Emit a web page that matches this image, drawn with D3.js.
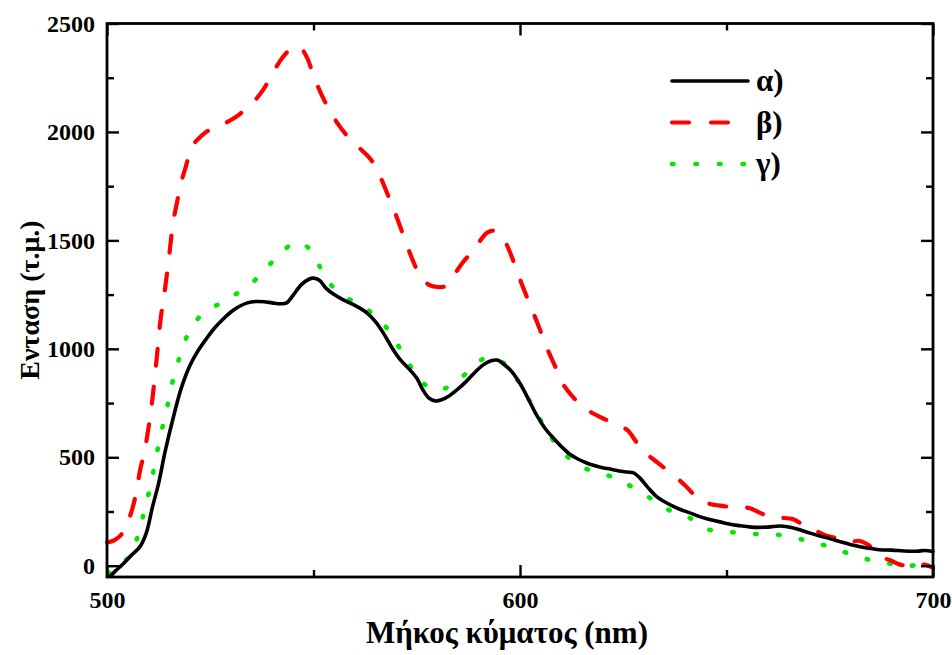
<!DOCTYPE html>
<html>
<head>
<meta charset="utf-8">
<title>spectra</title>
<script src="https://cdn.jsdelivr.net/npm/d3@7"></script>
<style>
  body { margin: 0; background: #fff; }
  svg { display: block; }
  .lbl { font-family: "Liberation Serif", "Times New Roman", serif; font-weight: bold; fill: #000; }
  .axis path, .axis line { stroke: #000; }
  .axis path { stroke-width: 2.6px; }
  .axis line { stroke-width: 2.4px; }
  .axis text { font-family: "Liberation Serif", "Times New Roman", serif; font-weight: bold; font-size: 24px; fill: #000; }
</style>
</head>
<body>
<div id="chart"></div>
<script>
// α) curve
var wlA = [500.5,502,504,506,508,509.5,511,512.5,514,516,518,520,522,524,526,528,530,532,534,536,538,540,542,543.5,545,547,549,550,551.5,553,555,557,559,561,563,565,567,569,571,573,575,576.5,578,579.5,581,583,585,587,589,591,593,594.5,596,598,600,602,604,606,608,610,612,614,616,618,620,622,624,626,627.5,629,631,633,635,637,639,641,643,645,647,650,653,656,660,663,666,669,672,675,678,681,684,687,690,693,696,698,700];
var intA = [-55,-25,10,50,88,150,270,380,520,680,820,920,990,1045,1095,1135,1170,1195,1212,1218,1217,1212,1208,1212,1245,1295,1322,1326,1315,1280,1250,1228,1210,1190,1165,1125,1070,1005,950,910,865,810,772,760,765,785,815,850,890,925,945,948,930,895,840,770,695,635,590,550,515,492,475,462,452,445,437,432,428,405,360,320,295,275,258,245,230,218,208,195,185,178,178,183,175,158,140,125,108,93,82,74,72,68,67,70,66];

// β) curve
var wlB = [500,501.5,503,504,505,506,507,508,509,510,511,512,513,514,515,516,517,518,519,520,521,522.5,524,526,528,530,532,534,536,538,540,542,544,545.5,547,548.5,550,552,554,556,558,560,562,564,566,568,570,572,574,576,578,580,582,584,586,588,590,592,593.5,595,596.5,598.5,600.5,602.5,604.5,606.5,608.5,610.5,612.5,614.5,617,620,623,626,628,630,632,634,637,640,642,644,646,648,650.5,653,655.5,658,660,663,666,668,670,672,674,676,678,680,682,684,686,688,690,692,694,696,698,700];
var intB = [108,115,135,158,200,254,330,440,520,630,770,950,1140,1270,1420,1580,1680,1770,1835,1900,1945,1975,2000,2020,2035,2055,2080,2115,2150,2200,2265,2330,2375,2393,2385,2340,2260,2170,2095,2035,1985,1945,1910,1870,1800,1710,1615,1510,1410,1330,1295,1285,1290,1340,1395,1440,1490,1535,1545,1530,1490,1400,1295,1200,1105,1005,920,835,785,745,710,680,655,625,575,525,495,465,420,370,330,298,285,278,272,270,266,245,230,222,215,195,176,158,140,130,118,110,115,100,70,38,22,5,0,2,5,-10];

// γ) curve
var wlC = [500.3,503,505.6,507,507.8,509.3,510.7,511.8,513,514.4,515.6,517.2,519.2,521,523,526,528.6,531,534.2,537,539.5,542,545,547,548.5,550,552,554,556.8,560,562.5,565,567.6,569.5,571.4,573,575,577,579,580.6,583,585.3,588,590.7,593,596.4,598.5,600.6,602.3,604,605.7,607.3,610,612.3,615,617.9,621,623.4,626,629.1,632,634.7,637.5,640.4,643,645.6,648.5,651.7,654.5,657.3,660,662.8,665.5,668.4,670.4,673,675.9,678.7,681.5,684.5,687.2,690,692.6,695.5,698.3,700];
var intC = [-38,5,46,110,162,273,382,493,604,716,827,939,1051,1110,1160,1195,1222,1250,1288,1340,1391,1440,1485,1490,1470,1440,1360,1300,1250,1215,1189,1150,1099,1045,987,935,876,835,812,810,828,860,905,950,960,930,880,818,760,703,648,596,535,488,455,435,418,402,375,343,305,270,245,228,195,167,160,154,150,146,144,142,132,120,112,98,82,62,42,28,18,8,-3,2,8,5];

var seriesNames = ["α)", "β)", "γ)"];
var xMajor = [500, 600, 700], xMinor = [550, 650];
var yMajor = [0, 500, 1000, 1500, 2000, 2500], yMinor = [250, 750, 1250, 1750, 2250];

var width = 952, height = 655,
    margin = {top: 23.5, right: 19, bottom: 78, left: 107},
    w = width - margin.left - margin.right,
    h = height - margin.top - margin.bottom;

var svg = d3.select("#chart").append("svg")
    .attr("width", width)
    .attr("height", height);

var g = svg.append("g")
    .attr("transform", "translate(" + margin.left + "," + margin.top + ")");

var x = d3.scaleLinear().domain([500, 700]).range([0, w]);
var y = d3.scaleLinear().domain([-52, 2500]).range([h, 0]);

var styles = [
  {color: "#000", width: 3.6, dash: null, cap: "round"},
  {color: "#ff0000", width: 4.2, dash: "17,21", cap: "round"},
  {color: "#00e800", width: 4.6, dash: "1.5,21.5", cap: "round"}
];

var data = [
  wlA.map(function(d, i){ return [d, intA[i]]; }),
  wlB.map(function(d, i){ return [d, intB[i]]; }),
  wlC.map(function(d, i){ return [d, intC[i]]; })
];

var line = d3.line()
    .x(function(d){ return x(d[0]); })
    .y(function(d){ return y(d[1]); })
    .curve(d3.curveCatmullRom.alpha(0.5));

g.append("defs").append("clipPath").attr("id", "clip")
  .append("rect").attr("x", -2).attr("y", -2).attr("width", w + 4).attr("height", h + 2);

// draw green first, then red, then black on top
[2, 1, 0].forEach(function(k){
  g.append("path")
    .datum(data[k])
    .attr("clip-path", "url(#clip)")
    .attr("fill", "none")
    .attr("stroke", styles[k].color)
    .attr("stroke-width", styles[k].width)
    .attr("stroke-linecap", styles[k].cap)
    .attr("stroke-linejoin", "round")
    .attr("stroke-dasharray", styles[k].dash)
    .attr("d", line);
});

// axes with inward ticks
g.append("g").attr("class", "axis")
  .attr("transform", "translate(0," + h + ")")
  .call(d3.axisBottom(x).tickValues(xMajor).tickSize(-12).tickPadding(14).tickFormat(d3.format("d")));
g.append("g").attr("class", "axis")
  .attr("transform", "translate(0," + h + ")")
  .call(d3.axisBottom(x).tickValues(xMinor).tickSize(-7).tickFormat(""));
g.append("g").attr("class", "axis")
  .call(d3.axisTop(x).tickValues(xMajor).tickSize(-12).tickFormat(""));
g.append("g").attr("class", "axis")
  .call(d3.axisTop(x).tickValues(xMinor).tickSize(-7).tickFormat(""));

g.append("g").attr("class", "axis")
  .call(d3.axisLeft(y).tickValues(yMajor).tickSize(-12).tickPadding(12).tickFormat(d3.format("d")));
g.append("g").attr("class", "axis")
  .call(d3.axisLeft(y).tickValues(yMinor).tickSize(-7).tickFormat(""));
g.append("g").attr("class", "axis")
  .attr("transform", "translate(" + w + ",0)")
  .call(d3.axisRight(y).tickValues(yMajor).tickSize(-12).tickFormat(""));
g.append("g").attr("class", "axis")
  .attr("transform", "translate(" + w + ",0)")
  .call(d3.axisRight(y).tickValues(yMinor).tickSize(-7).tickFormat(""));

// remove outer domain overdraw, then frame
g.selectAll(".axis .domain").remove();
g.append("rect")
  .attr("width", w).attr("height", h)
  .attr("fill", "none").attr("stroke", "#000").attr("stroke-width", 2.8);

// axis titles
svg.append("text").attr("class", "lbl")
  .attr("x", 507).attr("y", 643)
  .attr("text-anchor", "middle")
  .style("font-size", "31px")
  .text("Μήκος κύματος (nm)");

svg.append("text").attr("class", "lbl")
  .attr("transform", "translate(39,300) rotate(-90)")
  .attr("text-anchor", "middle")
  .style("font-size", "28px")
  .text("Ενταση (τ.μ.)");

// legend
var legend = svg.append("g").attr("transform", "translate(672,81)");
seriesNames.forEach(function(name, k){
  var row = legend.append("g").attr("transform", "translate(0," + (k * 41.5) + ")");
  row.append("line")
    .attr("x1", 0).attr("x2", 76).attr("y1", 0).attr("y2", 0)
    .attr("stroke", styles[k].color)
    .attr("stroke-width", styles[k].width)
    .attr("stroke-linecap", styles[k].cap)
    .attr("stroke-dasharray", k === 1 ? "17,22" : (k === 2 ? "1.5,22" : null));
  row.append("text").attr("class", "lbl")
    .attr("x", 84).attr("y", 0).attr("dy", "0.33em")
    .style("font-size", "31px")
    .text(name);
});
</script>
</body>
</html>
